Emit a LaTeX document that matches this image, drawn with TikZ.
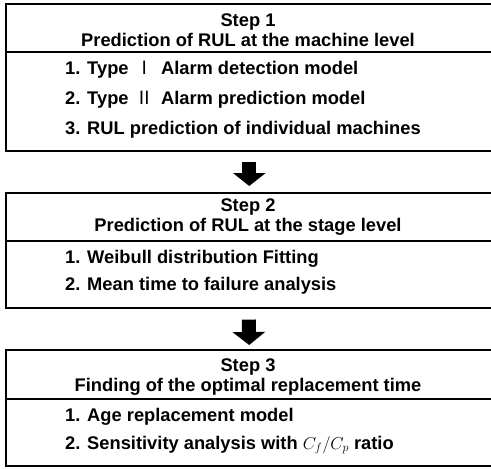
\documentclass[tikz,border=0pt]{standalone}
\usepackage{fontspec}
\setmainfont{Liberation Sans}
\newfontfamily\cjk{Noto Sans CJK KR}
\usetikzlibrary{arrows.meta, positioning}
\tikzset{
  every picture/.style={font=\bfseries\fontsize{18.3}{20}\selectfont, x=1pt, y=-1pt},
  stepbox/.style={draw=black, line width=#1, minimum width=490pt, anchor=north west, inner sep=0pt},
  stepbox/.default=1.6pt,
  title/.style={align=center, inner sep=0pt},
  item/.style={anchor=west, inner sep=0pt},
  sep/.style={line width=1.5pt},
  bigarrow/.style={line width=14pt, -{Triangle[length=13pt, width=32pt]}},
}
\newcommand{\typenum}[1]{\hspace{2pt}{\cjk\mdseries #1}\hspace{2pt}}

\begin{document}
\begin{tikzpicture}
  \useasboundingbox (0,0) rectangle (491,469);
  \clip (0,0) rectangle (491,469);
  % step 1
  \node[stepbox, minimum height=147pt] (box1) at (5,3) {};
  \draw[sep] ([yshift=-49pt]box1.north west) -- ([yshift=-49pt]box1.north east);
  \node[title] (title1) at (248,30) {Step 1\\Prediction of RUL at the machine level};
  \foreach \t [count=\i] in {1. Type \typenum{Ⅰ} Alarm detection model, 2. Type \typenum{Ⅱ} Alarm prediction model, 3. RUL prediction of individual machines}
    \node[item] (itemA\i) at (65,{70+(\i-1)*29.7}) {\t};
  % step 2
  \node[stepbox, minimum height=115pt] (box2) at (5,192) {};
  \draw[sep] ([yshift=-49pt]box2.north west) -- ([yshift=-49pt]box2.north east);
  \node[title] (title2) at (248,217.5) {Step 2\\Prediction of RUL at the stage level};
  \foreach \t [count=\i] in {1. Weibull distribution Fitting, 2. Mean time to failure analysis}
    \node[item] (itemB\i) at (65,{259+(\i-1)*26.5}) {\t};
  % step 3
  \node[stepbox=2.4pt, minimum height=116pt] (box3) at (5,349) {};
  \draw[sep] ([yshift=-50pt]box3.north west) -- ([yshift=-50pt]box3.north east);
  \node[title] (title3) at (248,377.5) {Step 3\\Finding of the optimal replacement time};
  \foreach \t [count=\i] in {1. Age replacement model, 2. Sensitivity analysis with $C_f/C_p$ ratio}
    \node[item] (itemC\i) at (65,{417+(\i-1)*28}) {\t};
  % arrows
  \draw[bigarrow] ([xshift=-1.5pt, yshift=-10pt]box1.south) -- ([xshift=-1.5pt, yshift=6pt]box2.north);
  \draw[bigarrow] ([xshift=-2pt, yshift=-11pt]box2.south) -- ([xshift=-2pt, yshift=4pt]box3.north);
\end{tikzpicture}
\end{document}
